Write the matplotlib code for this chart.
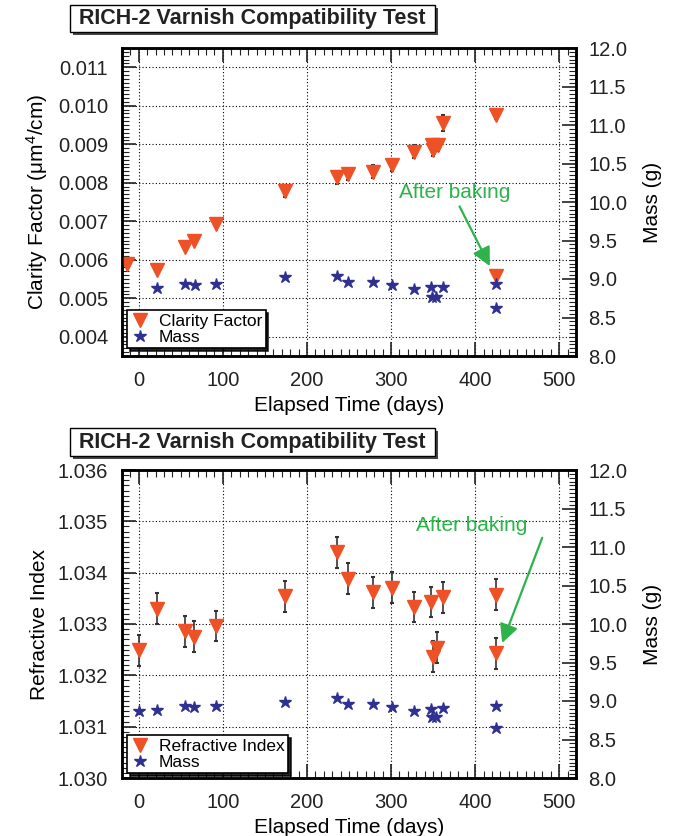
import matplotlib
matplotlib.use("Agg")
import matplotlib.pyplot as plt
from matplotlib.lines import Line2D
from matplotlib.patches import Rectangle
from matplotlib.ticker import MultipleLocator, FormatStrFormatter

plt.rcParams['font.family'] = ['Liberation Sans', 'DejaVu Sans']
plt.rcParams['mathtext.fontset'] = 'custom'
plt.rcParams['mathtext.rm'] = 'Liberation Sans'
plt.rcParams['mathtext.it'] = 'Liberation Sans:italic'

# top panel: clarity factor + mass
days_cf = [-14, 22, 55, 66, 92, 174, 236, 249, 278, 301, 327, 349, 350, 356, 362, 425]
clarity = [0.00588, 0.00574, 0.00633, 0.00650, 0.00692, 0.00779, 0.00814, 0.00822,
           0.00829, 0.00846, 0.00881, 0.00898, 0.00885, 0.00898, 0.00955, 0.00977]
clarity_err = [0.00005, 0.00005, 0.00005, 0.00005, 0.00005, 0.00015, 0.00016, 0.00015,
               0.00016, 0.00016, 0.00017, 0.00015, 0.00015, 0.00015, 0.0002, 0.00012]
baked_day = 425
clarity_baked = 0.00559

days_m1 = [22, 55, 67, 92, 174, 236, 249, 278, 301, 327, 347, 349, 354, 362, 425, 425]
mass1 = [8.88, 8.93, 8.92, 8.93, 9.02, 9.04, 8.96, 8.96, 8.92, 8.87, 8.89, 8.76, 8.77, 8.90, 8.93, 8.62]

# bottom panel: refractive index + mass
days_ri = [0, 22, 55, 66, 92, 174, 236, 249, 278, 301, 327, 347, 350, 355, 362, 425]
ri = [1.03249, 1.03330, 1.03286, 1.03275, 1.03296, 1.03354, 1.03440, 1.03388,
      1.03362, 1.03371, 1.03333, 1.03343, 1.03236, 1.03254, 1.03352, 1.03357]
ri_err = [0.0003] * len(ri)
ri_baked = 1.03243

days_m2 = [0, 22, 55, 66, 92, 174, 236, 249, 278, 301, 327, 347, 349, 354, 362, 425, 425]
mass2 = [8.87, 8.88, 8.93, 8.92, 8.93, 8.99, 9.04, 8.96, 8.96, 8.92, 8.87, 8.89, 8.79, 8.79, 8.91, 8.93, 8.645]

RED = '#ef5127'
BLUE = '#2e3192'
GREEN = '#2db34a'
TITLE = 'RICH-2 Varnish Compatibility Test'

W, H = 676, 836
fig = plt.figure(figsize=(W / 100, H / 100), dpi=100)


def px(l, t, r, b):
    return [l / W, 1 - b / H, (r - l) / W, (b - t) / H]


def title_box(t, b):
    l, r = 70, 435
    fig.add_artist(Rectangle((l / W + 3 / W, 1 - (b + 3) / H), (r - l) / W, (b - t) / H,
                             transform=fig.transFigure, fc='#444444', ec='none'))
    fig.add_artist(Rectangle((l / W, 1 - b / H), (r - l) / W, (b - t) / H,
                             transform=fig.transFigure, fc='white', ec='black', lw=1))
    fig.text((l + r) / 2 / W, 1 - (t + b) / 2 / H, TITLE, ha='center', va='center',
             fontsize=15.5, weight='bold', color='#222222')


def style(ax, ax2, ymin, ymax, ymaj, ymin_step, fmt):
    ax.set_xlim(-20, 520)
    ax.set_ylim(ymin, ymax)
    ax.xaxis.set_major_locator(MultipleLocator(100))
    ax.xaxis.set_minor_locator(MultipleLocator(10))
    ax.yaxis.set_major_locator(MultipleLocator(ymaj))
    ax.yaxis.set_minor_locator(MultipleLocator(ymin_step))
    ax.yaxis.set_major_formatter(FormatStrFormatter(fmt))
    ax.tick_params(which='both', direction='in', top=True, right=False, labelsize=14.5, colors='#222222')
    ax.tick_params(which='major', length=10, width=1.2)
    ax.tick_params(which='minor', length=5, width=0.8)
    ax.tick_params(axis='x', pad=11)
    ax.tick_params(axis='y', pad=10)
    ax.grid(True, which='major', ls=(0, (1, 2)), color='black', lw=0.8)
    ax2.set_ylim(8, 12)
    ax2.yaxis.set_major_locator(MultipleLocator(0.5))
    ax2.yaxis.set_minor_locator(MultipleLocator(0.05))
    ax2.yaxis.set_major_formatter(FormatStrFormatter('%.1f'))
    ax2.tick_params(which='both', direction='in', labelsize=14.5, pad=9, colors='#222222')
    ax2.tick_params(which='major', length=10, width=1.2)
    ax2.tick_params(which='minor', length=5, width=0.8)
    ax2.set_ylabel('Mass (g)', fontsize=15, labelpad=11)
    ax.set_xlabel('Elapsed Time (days)', fontsize=15, labelpad=4)
    for a in (ax, ax2):
        for s in a.spines.values():
            s.set_linewidth(1.8)


def legend(ax2, label, bottom):
    handles = [Line2D([], [], ls='none', marker='v', ms=10, color=RED, label=label),
               Line2D([], [], ls='none', marker='*', ms=9, color=BLUE, label='Mass')]
    leg = ax2.legend(handles=handles, loc='lower left', bbox_to_anchor=(0.012, bottom),
                     borderaxespad=0, fontsize=12.5, fancybox=False, edgecolor='black',
                     framealpha=1, handlelength=1.0, handletextpad=0.6, labelspacing=0.05,
                     borderpad=0.2, shadow={'color': 'black', 'alpha': 0.85})
    leg.get_frame().set_linewidth(1.2)
    leg.set_zorder(10)


# ---- top panel
title_box(5, 32)
ax = fig.add_axes(px(122, 48, 576, 356))
ax2 = ax.twinx()
ax.errorbar(days_cf, clarity, yerr=clarity_err, fmt='none', ecolor='#333333', elinewidth=1.2,
            capsize=1.5, capthick=1.5, zorder=2)
ax.plot(days_cf, clarity, ls='none', marker='v', ms=10, color=RED, zorder=3)
ax.errorbar([baked_day], [clarity_baked], yerr=[0.00006], fmt='none', ecolor='#333333',
            elinewidth=1.2, capsize=1.5, zorder=2)
ax.plot([baked_day], [clarity_baked], ls='none', marker='v', ms=10, color=RED, zorder=3)
ax2.plot(days_m1, mass1, ls='none', marker='*', ms=9, color=BLUE)
style(ax, ax2, 0.0035, 0.0115, 0.001, 0.0001, '%.3f')
ax.set_ylabel('Clarity Factor (μm$^4$/cm)', fontsize=15, labelpad=6)
ax.text(376, 0.00774, 'After baking', color=GREEN, fontsize=15, ha='center', va='center')
ax.annotate('', xy=(419, 0.00577), xytext=(380, 0.00745),
            arrowprops=dict(arrowstyle='-|>', color=GREEN, lw=1.6, mutation_scale=28))
legend(ax2, 'Clarity Factor', 0.025)

# ---- bottom panel
title_box(428, 456)
bx = fig.add_axes(px(122, 470, 576, 778))
bx2 = bx.twinx()
bx.errorbar(days_ri, ri, yerr=ri_err, fmt='none', ecolor='#333333', elinewidth=1.2,
            capsize=1.5, capthick=1.5, zorder=2)
bx.plot(days_ri, ri, ls='none', marker='v', ms=10, color=RED, zorder=3)
bx.errorbar([baked_day], [ri_baked], yerr=[0.0003], fmt='none', ecolor='#333333',
            elinewidth=1.2, capsize=1.5, capthick=1.5, zorder=2)
bx.plot([baked_day], [ri_baked], ls='none', marker='v', ms=10, color=RED, zorder=3)
bx2.plot(days_m2, mass2, ls='none', marker='*', ms=9, color=BLUE)
style(bx, bx2, 1.030, 1.036, 0.001, 0.0001, '%.3f')
bx.set_ylabel('Refractive Index', fontsize=15, labelpad=6)
bx.text(396, 1.03492, 'After baking', color=GREEN, fontsize=15, ha='center', va='center')
bx.annotate('', xy=(431, 1.03258), xytext=(481, 1.03473),
            arrowprops=dict(arrowstyle='-|>', color=GREEN, lw=1.6, mutation_scale=28))
legend(bx2, 'Refractive Index', 0.016)

fig.savefig('out.png', dpi=100)
